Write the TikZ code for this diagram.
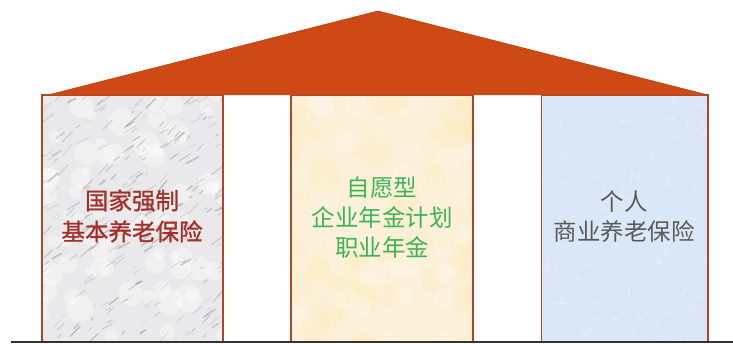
\documentclass[tikz,border=0pt]{standalone}
\usepackage{fontspec}
\newfontfamily\cjk{Noto Sans CJK SC}
\newfontfamily\cjkb[FakeBold=1.2]{Noto Sans CJK SC}
\definecolor{roofc}{HTML}{CF4916}
\definecolor{roofedge}{HTML}{B5400F}
\definecolor{pillaredge}{HTML}{A9482B}
\definecolor{marble}{HTML}{E9E9EB}
\definecolor{parch}{HTML}{FCF0D8}
\definecolor{bluep}{HTML}{DAE7F6}
\definecolor{redtext}{HTML}{A3302A}
\definecolor{greentext}{HTML}{3DB35C}
\definecolor{graytext}{HTML}{5A5A5A}
\tikzset{
  pillar/.style={minimum height=247pt, inner sep=0pt},
  pillarframe/.style={draw=pillaredge, line width=1.6pt},
  label/.style={align=center, font=\cjk\fontsize{23.5}{30}\selectfont, inner sep=0pt}
}
\begin{document}
\begin{tikzpicture}[x=1pt,y=-1pt]
\useasboundingbox (0,0) rectangle (733,343);
\pgfmathsetseed{11}
% left pillar (marble)
\node[pillar, fill=marble, minimum width=181pt,
  path picture={
    \foreach \i in {1,...,70}{
      \pgfmathsetmacro{\px}{rnd*190}
      \pgfmathsetmacro{\py}{rnd*250}
      \pgfmathsetmacro{\pr}{4+rnd*10}
      \fill[white, opacity=0.35]
        ([shift={(\px pt,-\py pt)}]path picture bounding box.north west) circle (\pr pt);
    }
    \foreach \i in {1,...,300}{
      \pgfmathsetmacro{\px}{rnd*200-10}
      \pgfmathsetmacro{\py}{rnd*260-5}
      \pgfmathsetmacro{\pl}{3+rnd*12}
      \pgfmathsetmacro{\pa}{25+rnd*25}
      \pgfmathsetmacro{\po}{0.1+rnd*0.28}
      \pgfmathsetmacro{\pw}{0.4+rnd*1.5}
      \draw[black!55, line width=\pw pt, opacity=\po, line cap=round]
        ([shift={(\px pt,-\py pt)}]path picture bounding box.north west)
        -- ++(\pa:\pl pt);
    }
  }] (p1) at (132.5,218.5) {};
% middle pillar (parchment)
\node[pillar, fill=parch, minimum width=182pt,
  path picture={
    \foreach \i in {1,...,60}{
      \pgfmathsetmacro{\px}{rnd*190}
      \pgfmathsetmacro{\py}{rnd*250}
      \pgfmathsetmacro{\pr}{6+rnd*12}
      \fill[orange!40!yellow!50, opacity=0.07]
        ([shift={(\px pt,-\py pt)}]path picture bounding box.north west) circle (\pr pt);
    }
    \foreach \i in {1,...,50}{
      \pgfmathsetmacro{\px}{rnd*190}
      \pgfmathsetmacro{\py}{rnd*250}
      \pgfmathsetmacro{\pr}{5+rnd*8}
      \fill[white, opacity=0.15]
        ([shift={(\px pt,-\py pt)}]path picture bounding box.north west) circle (\pr pt);
    }
  }] (p2) at (382,218.5) {};
% right pillar (blue paper)
\node[pillar, fill=bluep, minimum width=166pt,
  path picture={
    \foreach \i in {1,...,220}{
      \pgfmathsetmacro{\px}{rnd*180-5}
      \pgfmathsetmacro{\py}{rnd*260-5}
      \pgfmathsetmacro{\pl}{3+rnd*10}
      \pgfmathsetmacro{\pa}{rnd*180}
      \pgfmathsetmacro{\pw}{0.4+rnd*0.7}
      \draw[white, line width=\pw pt, opacity=0.35, line cap=round]
        ([shift={(\px pt,-\py pt)}]path picture bounding box.north west)
        -- ++(\pa:\pl pt);
    }
  }] (p3) at (624.5,218.5) {};
% pillar frames
\foreach \p in {p1,p2,p3}{
  \draw[pillarframe] (\p.south west) rectangle (\p.north east);
}
% roof
\coordinate (rl) at (48,95);
\coordinate (ra) at (378,11);
\coordinate (rr) at (708,95);
\fill[roofc] (rl) -- (ra) -- (rr) -- cycle;
\draw[roofedge, line width=0.6pt, line join=round] (rl) -- (ra) -- (rr);
% ground
\coordinate (g1) at (11,342);
\coordinate (g2) at (733,342);
\draw[black!80, line width=1.2pt] (g1) -- (g2);
% labels
\node[label, text=redtext, font=\cjkb\fontsize{23.5}{31}\selectfont] (t1) at (132,216) {国家强制\\基本养老保险};
\node[label, text=greentext] (t2) at (382,218) {自愿型\\企业年金计划\\职业年金};
\node[label, text=graytext] (t3) at (624,217) {个人\\商业养老保险};
\end{tikzpicture}
\end{document}
